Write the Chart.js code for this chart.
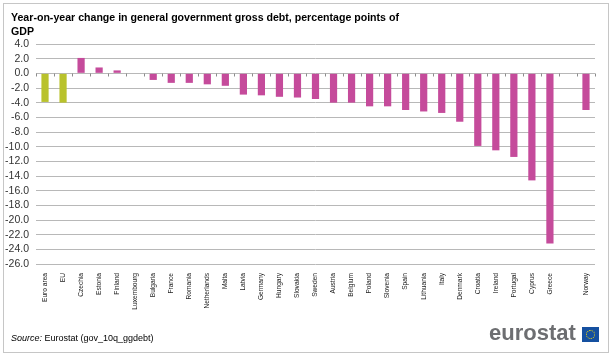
<!DOCTYPE html>
<html><head><meta charset="utf-8">
<script src="https://cdn.jsdelivr.net/npm/chart.js@4.4.1/dist/chart.umd.min.js"></script>
<style>
html,body{margin:0;padding:0;background:#fff;width:613px;height:358px;overflow:hidden;}
#frame{position:absolute;left:3px;top:3px;width:606px;height:350px;border:1px solid #c6c6c6;box-sizing:border-box;}
#title{position:absolute;left:11px;top:10px;font:bold 10.6px "Liberation Sans",Arial,sans-serif;line-height:14px;color:#000;white-space:nowrap;}
#wrap{position:absolute;left:0;top:0;width:613px;height:358px;}
#source{position:absolute;left:11px;top:333px;font:9px "Liberation Sans",Arial,sans-serif;color:#000;white-space:nowrap;}
#logo{position:absolute;left:489px;top:320px;font:bold 22px "Liberation Sans",Arial,sans-serif;color:#6d6e71;}
#flag{position:absolute;left:582px;top:327px;width:17px;height:15px;background:#1550a0;}
#flag div{position:absolute;left:4px;top:3px;width:7px;height:7px;border:1px dotted #ffe000;border-radius:50%;}
</style></head>
<body>
<div id="frame"></div>
<div id="wrap"><canvas id="c" width="613" height="358"></canvas></div>
<div id="title">Year-on-year change in general government gross debt, percentage points of<br>GDP</div>
<div id="source"><i>Source:</i> Eurostat (gov_10q_ggdebt)</div>
<div id="logo">eurostat</div>
<div id="flag"><div></div></div>
<script>
const categories = ["Euro area","EU","Czechia","Estonia","Finland","Luxembourg","Bulgaria","France","Romania","Netherlands","Malta","Latvia","Germany","Hungary","Slovakia","Sweden","Austria","Belgium","Poland","Slovenia","Spain","Lithuania","Italy","Denmark","Croatia","Ireland","Portugal","Cyprus","Greece","","Norway"];
const values = [-3.9,-4.0,2.1,0.8,0.4,0.0,-0.9,-1.3,-1.3,-1.5,-1.7,-2.9,-3.0,-3.2,-3.3,-3.5,-4.0,-4.0,-4.5,-4.5,-5.0,-5.2,-5.4,-6.6,-9.9,-10.5,-11.4,-14.6,-23.2,null,-5.0];
const aggregates = ["Euro area","EU"];
const aggregateColor = "#b9c22c";
const countryColor = "#c54b9b";
const yMin = -26, yMax = 4, yStep = 2;

const zeroTicks = {
  id:'zeroTicks',
  afterDatasetsDraw(chart){
    const x = chart.scales.x, y = chart.scales.y, ctx = chart.ctx;
    const y0 = Math.round(y.getPixelForValue(0)) + 0.5;
    const n = categories.length;
    const w = (x.right - x.left) / n;
    ctx.save();
    ctx.strokeStyle = '#8c8c8c';
    ctx.lineWidth = 1;
    ctx.beginPath();
    for (let i = 0; i <= n; i++) {
      const px = Math.round(x.left + i * w) + 0.5;
      ctx.moveTo(px, y0); ctx.lineTo(px, y0 + 3);
    }
    ctx.stroke();
    ctx.restore();
  }
};

new Chart(document.getElementById('c'), {
  type:'bar',
  data:{
    labels:categories,
    datasets:[{
      data:values,
      backgroundColor:categories.map(c => aggregates.includes(c) ? aggregateColor : countryColor),
      barPercentage:0.4,
      categoryPercentage:1.0
    }]
  },
  options:{
    responsive:false,
    animation:false,
    devicePixelRatio:1,
    layout:{padding:{left:0,top:44,right:18,bottom:0}},
    plugins:{legend:{display:false},tooltip:{enabled:false}},
    scales:{
      x:{
        grid:{display:false},
        border:{display:false},
        ticks:{autoSkip:false,minRotation:90,maxRotation:90,padding:1,color:'#222',font:{family:'"Liberation Sans", Arial, sans-serif',size:6.6}},
        afterFit(s){ s.height = 94; }
      },
      y:{
        min:yMin,max:yMax,
        grid:{color:'#b8b8b8',drawTicks:false},
        border:{display:false},
        ticks:{autoSkip:false,stepSize:yStep,padding:7,color:'#333',font:{family:'"Liberation Sans", Arial, sans-serif',size:10.5},callback:v=>Number(v).toFixed(1)},
        afterFit(s){ s.width = 36; }
      }
    }
  },
  plugins:[zeroTicks]
});
</script>
</body></html>
